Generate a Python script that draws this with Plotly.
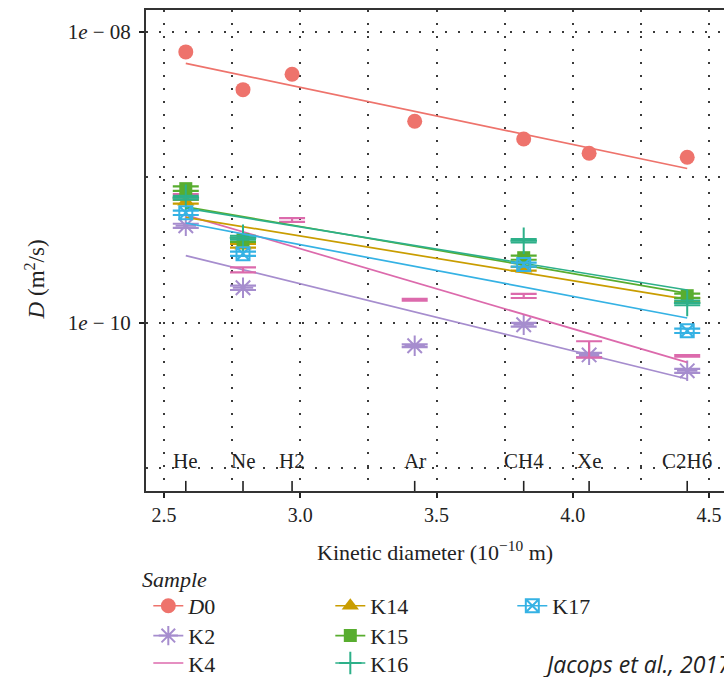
import numpy as np
import plotly.graph_objects as go

# ---------------- data ----------------
gases = ["He", "Ne", "H2", "Ar", "CH4", "Xe", "C2H6"]
diameters = [2.58, 2.79, 2.97, 3.42, 3.82, 4.06, 4.42]   # kinetic diameter (1e-10 m)

d0_gases = ["He", "Ne", "H2", "Ar", "CH4", "Xe", "C2H6"]
d0_D = [7.25e-9, 3.99e-9, 5.09e-9, 2.42e-9, 1.83e-9, 1.46e-9, 1.37e-9]

k2_gases = ["He", "Ne", "Ar", "CH4", "Xe", "C2H6"]
k2_D = [4.64e-10, 1.74e-10, 6.95e-11, 9.7e-11, 6.02e-11, 4.68e-11]
k2_err = [0.15e-10, 0.06e-10, 0.15e-11, 0.3e-11, 0.2e-11, 0.15e-11]

k4_gases = ["He", "Ne", "H2", "Ar", "CH4", "Xe", "C2H6"]
k4_D = [7.46e-10, 2.31e-10, 5.08e-10, 1.44e-10, 1.53e-10, 6.62e-11, 5.93e-11]
k4_err = [0.2e-10, 0.09e-10, 0.15e-10, 0.02e-10, 0.05e-10, 0.85e-11, 0.08e-11]

k14_gases = ["He", "Ne", "CH4", "C2H6"]
k14_D = [6.79e-10, 3.38e-10, 2.35e-10, 1.44e-10]
k14_err = [0.2e-10, 0.1e-10, 0.07e-10, 0.04e-10]

k15_gases = ["He", "Ne", "CH4", "C2H6"]
k15_D = [8.34e-10, 3.72e-10, 2.80e-10, 1.535e-10]
k15_err = [0.3e-10, 0.12e-10, 0.09e-10, 0.05e-10]

k16_gases = ["He", "Ne", "CH4", "C2H6"]
k16_D = [7.23e-10, 3.84e-10, 3.66e-10, 1.37e-10]
k16_err = [0.22e-10, 0.12e-10, 0.1e-10, 0.05e-10]

k17_gases = ["He", "Ne", "CH4", "C2H6"]
k17_D = [5.70e-10, 2.98e-10, 2.51e-10, 8.81e-11]
k17_err = [0.2e-10, 0.1e-10, 0.08e-10, 0.3e-11]

# ---------------- styles ----------------
SERIF = "Liberation Serif, Times New Roman, serif"
INK = "#222222"
diam_of = dict(zip(gases, diameters))

series = [
    # name, label, gases, D, err, color, symbol, size, legend, legendrank
    ("D0", "<i>D</i>0", d0_gases, d0_D, None, "#EE736C", "circle", 15, "legend", 1),
    ("K2", "K2", k2_gases, k2_D, k2_err, "#A68DCE", "asterisk-open", 17, "legend2", 1),
    ("K4", "K4", k4_gases, k4_D, k4_err, "#DC6AAC", None, 0, "legend3", 1),
    ("K14", "K14", k14_gases, k14_D, k14_err, "#C99D00", "triangle-up", 15, "legend", 2),
    ("K15", "K15", k15_gases, k15_D, k15_err, "#58AD2F", "square", 13, "legend2", 2),
    ("K16", "K16", k16_gases, k16_D, k16_err, "#2DB089", "cross-thin-open", 19, "legend3", 2),
    ("K17", "K17", k17_gases, k17_D, k17_err, "#35B2E4", "square-x-open", 13, "legend", 3),
]

fig = go.Figure()

for name, label, g, D, err, color, symbol, size, leg, rank in series:
    x = [diam_of[k] for k in g]
    # regression line of log10(D) on kinetic diameter
    slope, icpt = np.polyfit(x, np.log10(D), 1)
    xl = [min(x), max(x)]
    yl = [10 ** (icpt + slope * v) for v in xl]
    fig.add_trace(go.Scatter(x=xl, y=yl, mode="lines", showlegend=False,
                             line=dict(color=color, width=1.7), hoverinfo="skip"))
    open_sym = symbol is not None and symbol.endswith("open")
    mk = dict(color=color, size=size if symbol else 1,
              symbol=symbol if symbol else "circle",
              line=dict(color=color, width=2 if open_sym else 0),
              opacity=1 if symbol else 0)
    tr = dict(x=x, y=D, mode="markers", showlegend=False, marker=mk, name=name)
    if err is not None:
        tr["error_y"] = dict(type="data", array=err, visible=True, color=color,
                             thickness=2.2, width=13)
    fig.add_trace(go.Scatter(**tr))
    # legend entry (line + symbol)
    lmode = "lines+markers" if symbol else "lines"
    fig.add_trace(go.Scatter(x=[None], y=[None], mode=lmode, name=label,
                             legend=leg, legendrank=rank,
                             line=dict(color=color, width=1.7),
                             marker=dict(color=color, size=size if symbol else 1,
                                         symbol=symbol if symbol else "circle",
                                         line=dict(color=color, width=2 if open_sym else 0))))

# rug marks and gas labels
shapes = []
annotations = []
for gname, d in zip(gases, diameters):
    shapes.append(dict(type="line", xref="x", yref="paper", x0=d, x1=d, y0=0, y1=0.021,
                       line=dict(color=INK, width=1.6)))
    annotations.append(dict(x=d, y=0.0624, xref="x", yref="paper", text=gname,
                            showarrow=False, xanchor="center", yanchor="middle",
                            font=dict(family=SERIF, size=21, color=INK)))

annotations += [
    dict(x=0.5, y=-0.125, xref="paper", yref="paper",
         text="Kinetic diameter (10<sup>−10</sup> m)", showarrow=False,
         xanchor="center", yanchor="middle", font=dict(family=SERIF, size=22, color=INK)),
    dict(x=-0.192, y=0.44, xref="paper", yref="paper", textangle=-90,
         text="<i>D</i> (m<sup>2</sup>/s)", showarrow=False,
         xanchor="center", yanchor="middle", font=dict(family=SERIF, size=23, color=INK)),
    dict(x=-0.011, y=-0.183, xref="paper", yref="paper", text="<i>Sample</i>",
         showarrow=False, xanchor="left", yanchor="middle",
         font=dict(family=SERIF, size=22, color=INK)),
    dict(x=0.683, y=-0.36, xref="paper", yref="paper", text="<i>Jacops et al., 2017</i>",
         showarrow=False, xanchor="left", yanchor="middle",
         font=dict(family="Open Sans, sans-serif", size=23, color=INK)),
]

grid = dict(gridcolor="#3a3a3a", gridwidth=1.6, griddash="2px,11px")

legend_common = dict(orientation="h", xanchor="left", yanchor="middle",
                     entrywidth=137, entrywidthmode="pixels",
                     bgcolor="rgba(0,0,0,0)", font=dict(family=SERIF, size=22, color=INK),
                     x=0.004)

fig.update_layout(
    width=724, height=677,
    margin=dict(l=146, r=0, t=10, b=186, autoexpand=False),
    plot_bgcolor="white", paper_bgcolor="white",
    font=dict(family=SERIF, size=20, color=INK),
    xaxis=dict(type="linear", range=[2.434, 4.555],
               tickvals=[2.5, 3.0, 3.5, 4.0, 4.5], ticktext=["2.5", "3.0", "3.5", "4.0", "4.5"],
               ticks="outside", ticklen=5, tickwidth=1.5, tickcolor=INK,
               showline=True, linecolor="#333333", linewidth=2, mirror=True,
               showgrid=True, zeroline=False,
               minor=dict(tickvals=[2.75, 3.25, 3.75, 4.25], showgrid=True, ticks="", **grid),
               tickfont=dict(family=SERIF, size=20, color=INK), **grid),
    yaxis=dict(type="log", range=[-11.155, -7.852],
               tickvals=[1e-8, 1e-10], ticktext=["1<i>e</i> − 08", "1<i>e</i> − 10"],
               ticks="outside", ticklen=5, tickwidth=1.5, tickcolor=INK,
               ticklabelstandoff=4,
               showline=True, linecolor="#333333", linewidth=2, mirror=False,
               showgrid=True, zeroline=False,
               minor=dict(tickvals=[1e-9, 1e-11], showgrid=True, ticks="", **grid),
               tickfont=dict(family=SERIF, size=21, color=INK), **grid),
    legend=dict(y=-0.239, **legend_common),
    legend2=dict(y=-0.301, **legend_common),
    legend3=dict(y=-0.358, **legend_common),
    shapes=shapes,
    annotations=annotations,
)

fig.write_html("out.html", config={"displayModeBar": False},
               post_script="document.body.style.margin='0';")
